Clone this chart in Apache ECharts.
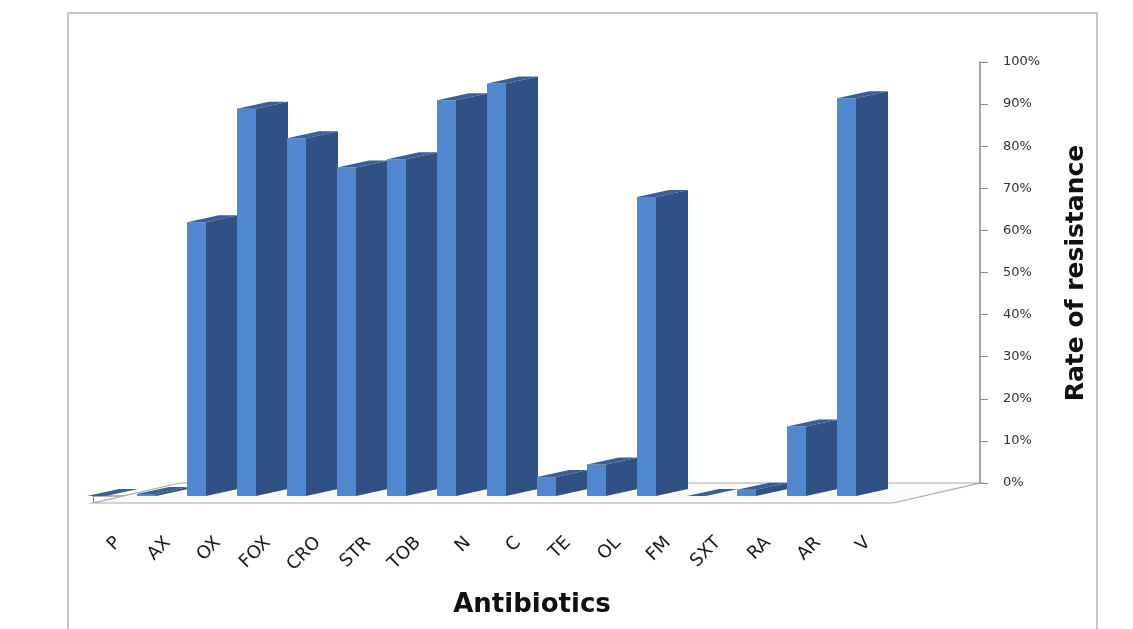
<!DOCTYPE html>
<html>
<head>
<meta charset="utf-8">
<script src="https://cdn.jsdelivr.net/npm/echarts@6/dist/echarts.min.js"></script>
<style>
html,body{margin:0;padding:0;background:#fff;}
#chart{width:1133px;height:629px;}
</style>
</head>
<body>
<div id="chart"></div>
<script>
const categories = ['P','AX','OX','FOX','CRO','STR','TOB','N','C','TE','OL','FM','SXT','RA','AR','V'];
const resistance = [0, 0.5, 65, 92, 85, 78, 80, 94, 98, 4.5, 7.5, 71, 0, 1.5, 16.5, 94.5];
const yMin = 0, yMax = 100, yStep = 10;
const xTitle = 'Antibiotics';
const yTitle = 'Rate of resistance';

const FRONT = '#5087cf', SIDE = '#2f5183', TOP = '#3b5f95';
const FLOOR_DX = 87, FLOOR_DY = -20, EDGE_DROP = 7;

const chart = echarts.init(document.getElementById('chart'), null, {renderer:'canvas'});

function renderFloor(params, api){
  const bw = api.size([1,0])[0];
  const n = categories.length;
  const a = api.coord([0, 0]);
  const b = api.coord([n-1, 0]);
  const xl = a[0] - bw/2, xr = b[0] + bw/2, y = a[1] + EDGE_DROP;
  return {
    type:'polygon',
    shape:{points:[[xl,y],[xr,y],[xr+FLOOR_DX,y+FLOOR_DY],[xl+FLOOR_DX,y+FLOOR_DY]]},
    style:{fill:'#fbfbfb', stroke:'#a8a8a8', lineWidth:1.2}
  };
}

function renderBar(params, api){
  const i = api.value(0), v = api.value(1);
  const base = api.coord([i, 0]);
  const top = api.coord([i, v]);
  const bw = api.size([1,0])[0];
  const x0 = base[0] - 0.62*bw, x1 = base[0] - 0.24*bw;
  const sw = 0.64*bw, dy = 0.14*bw;
  const yb = base[1], yt = Math.min(top[1], yb - 0.01);
  return {
    type:'group',
    children:[
      {type:'polygon', shape:{points:[[x1,yb],[x1,yt],[x1+sw,yt-dy],[x1+sw,yb-dy]]}, style:{fill:SIDE}},
      {type:'polygon', shape:{points:[[x0,yb],[x1,yb],[x1,yt],[x0,yt]]}, style:{fill:FRONT}},
      {type:'polygon', shape:{points:[[x0,yt],[x1,yt],[x1+sw,yt-dy],[x0+sw,yt-dy]]}, style:{fill:TOP}}
    ]
  };
}

const option = {
  animation:false,
  backgroundColor:'#ffffff',
  grid:[
    {left:93, right:240, top:75, bottom:133},
    {left:180, right:153, top:62, bottom:146}
  ],
  xAxis:[
    {type:'category', gridIndex:0, data:categories, offset:EDGE_DROP,
     axisLine:{show:true, lineStyle:{color:'#a09a94', width:1.5}},
     axisTick:{show:true, length:7, lineStyle:{color:'#888'}},
     axisLabel:{rotate:45, margin:37, color:'#1a1a1a', fontSize:18, fontFamily:'DejaVu Sans', interval:0},
     splitLine:{show:false}},
    {type:'value', gridIndex:1, show:false, min:0, max:1}
  ],
  yAxis:[
    {type:'value', gridIndex:0, min:yMin, max:yMax, show:false},
    {type:'value', gridIndex:1, min:yMin, max:yMax, interval:yStep, position:'right',
     axisLine:{show:true, onZero:false, lineStyle:{color:'#8a8a8a', width:1.5}},
     axisTick:{show:true, length:8, lineStyle:{color:'#8a8a8a'}},
     axisLabel:{formatter:'{value}%', margin:23, color:'#333', fontSize:13, fontFamily:'DejaVu Sans'},
     splitLine:{show:false}}
  ],
  graphic:[
    {type:'rect', shape:{x:68, y:13, width:1029, height:640}, style:{fill:'none', stroke:'#b4b4b4', lineWidth:1.5}, z:-10},
    {type:'text', x:532, y:605, style:{text:xTitle, font:'bold 26px "DejaVu Sans"', fill:'#111', textAlign:'center', textVerticalAlign:'middle'}},
    {type:'text', x:1076, y:273, rotation:Math.PI/2, style:{text:yTitle, font:'bold 25px "DejaVu Sans"', fill:'#111', textAlign:'center', textVerticalAlign:'middle'}}
  ],
  series:[
    {type:'custom', xAxisIndex:0, yAxisIndex:0, renderItem:renderFloor, data:[[0,0]], z:1, silent:true},
    {type:'custom', xAxisIndex:0, yAxisIndex:0, renderItem:renderBar,
     data:categories.map((c,i)=>[i, resistance[i]]), z:2}
  ]
};
chart.setOption(option);
</script>
</body>
</html>
